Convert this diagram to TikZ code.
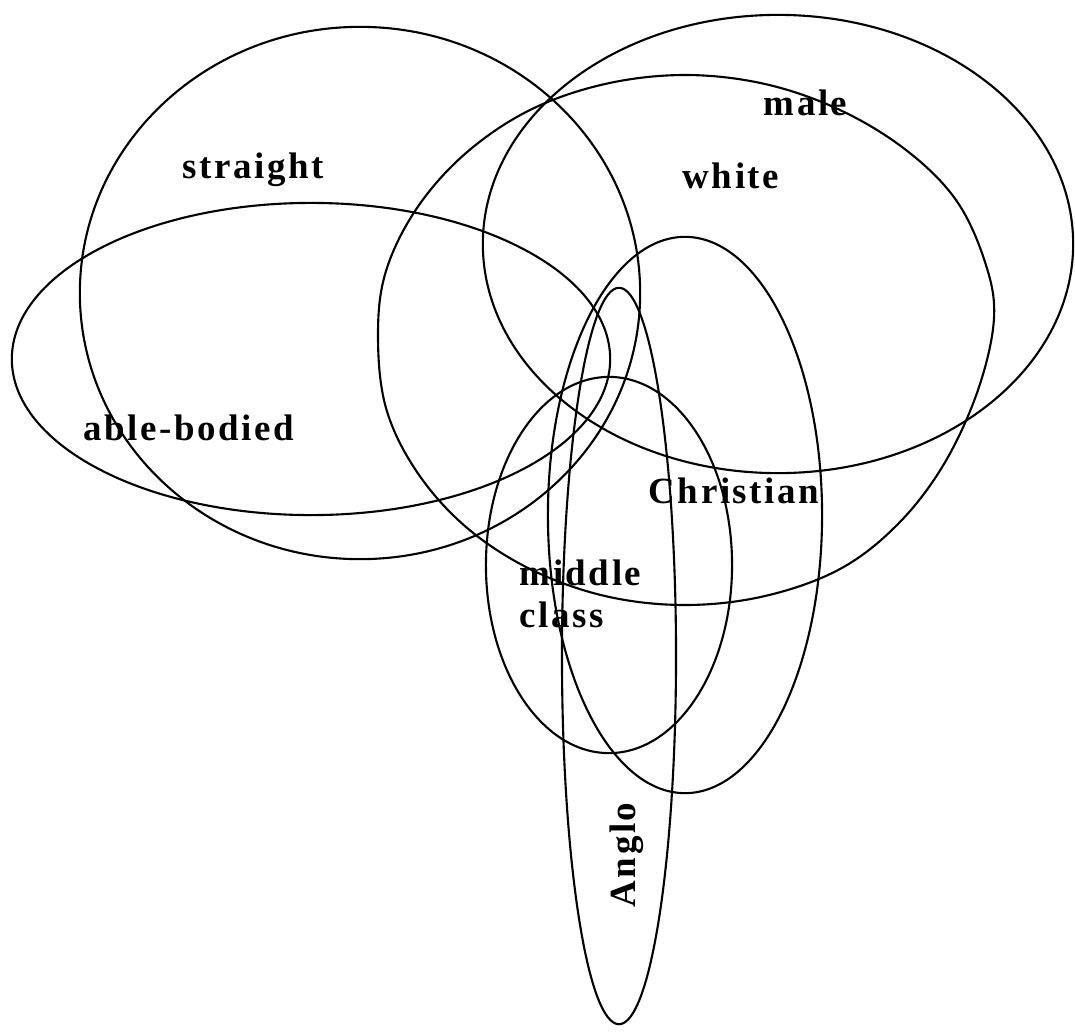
\documentclass[tikz,border=0pt]{standalone}
\usepackage{fontspec}
\newfontfamily\lblfont{Liberation Serif}[LetterSpace=7]
\tikzset{
  setline/.style={draw=black, line width=0.6pt, line join=round},
  lbl/.style={inner sep=0pt, font=\lblfont\bfseries\fontsize{10.5}{12}\selectfont}
}
\begin{document}
\begin{tikzpicture}[x=0.01cm,y=-0.01cm]
\useasboundingbox (0,0) rectangle (1075,1036);
% straight
\draw[setline] (360,293) ellipse [x radius=2.80cm, y radius=2.66cm];
% able-bodied
\draw[setline] (311,359) ellipse [x radius=2.99cm, y radius=1.56cm];
% white
\draw[setline] plot[smooth cycle, tension=0.6] coordinates {
(994,318) (985,262) (956,200) (906,150) (840,110) (765,84) (685,75) (605,84) (530,110) (466,153) (417,208) (386,271) (378,335) (386,408) (417,472) (466,527) (530,569) (605,596) (685,605) (765,596) (840,569) (898,524) (944,464) (978,390)};
% male
\draw[setline] (778,244) ellipse [x radius=2.95cm, y radius=2.29cm];
% Christian
\draw[setline] (685,515) ellipse [x radius=1.37cm, y radius=2.78cm];
% middle class
\draw[setline] (609,565) ellipse [x radius=1.23cm, y radius=1.88cm];
% Anglo
\draw[setline] (619,656) ellipse [x radius=0.57cm, y radius=3.68cm];
% labels
\node[lbl, anchor=base west] (straight) at (182,178) {straight};
\node[lbl, anchor=base west] (able) at (83,440) {able-bodied};
\node[lbl, anchor=base west] (male) at (763,115) {male};
\node[lbl, anchor=base west] (white) at (682,188) {white};
\node[lbl, anchor=base west] (christian) at (648,503) {Christian};
\node[lbl, anchor=base west] (middle) at (519,585) {middle};
\node[lbl, anchor=base west] (class) at (519,627) {class};
\node[lbl, anchor=base west, rotate=90] (anglo) at (635,908) {Anglo};
\end{tikzpicture}
\end{document}
